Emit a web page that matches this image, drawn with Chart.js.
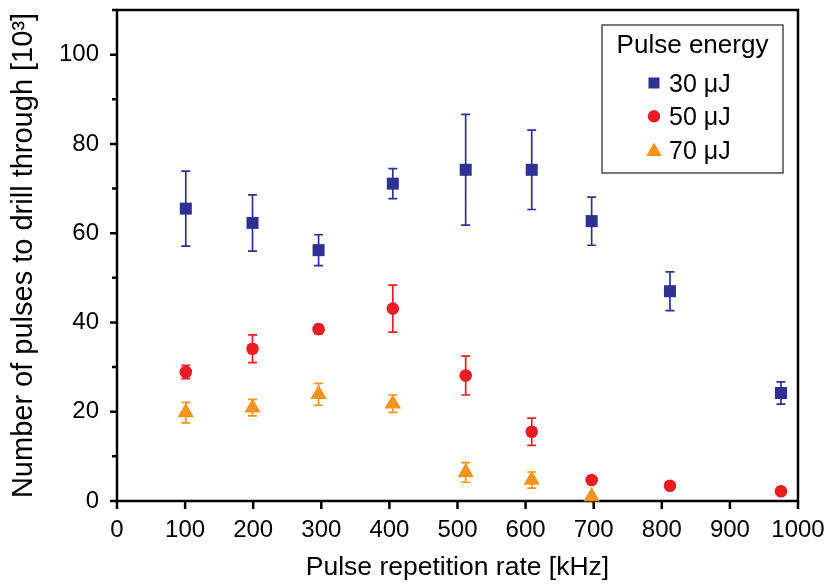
<!DOCTYPE html>
<html>
<head>
<meta charset="utf-8">
<title>Pulses to drill through vs repetition rate</title>
<script src="https://cdn.jsdelivr.net/npm/chart.js@4.4.1/dist/chart.umd.min.js"></script>
<style>
  html, body { margin: 0; padding: 0; background: #ffffff; }
  #wrap { width: 828px; height: 585px; }
</style>
</head>
<body>
<div id="wrap"><canvas id="chart" width="828" height="585"></canvas></div>
<script>
// Pulse repetition rate of each measurement [kHz]
const rates = [101, 199, 296, 405, 512, 609, 697, 812, 975];

// Number of pulses to drill through [10^3] and their symmetric error bars
const pulses30 = [65.5, 62.3, 56.2, 71.1, 74.2, 74.2, 62.7, 47.0, 24.2];
const error30  = [8.4, 6.3, 3.45, 3.35, 12.4, 8.9, 5.4, 4.35, 2.5];

const pulses50 = [28.9, 34.1, 38.5, 43.1, 28.1, 15.5, 4.7, 3.4, 2.2];
const error50  = [1.5, 3.1, 1.0, 5.25, 4.35, 3.05, 0, 0, 0];

const pulses70 = [19.8, 20.9, 23.9, 21.8, 6.4, 4.7, 1.0];
const error70  = [2.3, 1.85, 2.45, 1.95, 2.2, 1.8, 0];

// Series names shown in the legend
const seriesLabels = ['30 μJ', '50 μJ', '70 μJ'];
const legendTitle = 'Pulse energy';

// Axis ticks
const xTickValues = [0, 100, 200, 300, 400, 500, 600, 700, 800, 900, 1000];
const yTickValues = [0, 20, 40, 60, 80, 100];
const yMinorTickValues = [10, 30, 50, 70, 90, 110];

const FONT = '"Liberation Sans", Arial, Helvetica, sans-serif';
const COLORS = ['#2E3192', '#ED1C24', '#F7941D'];

function toPoints(ys) {
  return ys.map((y, i) => ({ x: rates[i], y: y }));
}

// Draw a filled marker of the given style centred at (x, y)
function drawMarker(ctx, style, r, x, y, color) {
  ctx.save();
  ctx.fillStyle = color;
  ctx.beginPath();
  if (style === 'rect') {
    const s = Math.SQRT1_2 * r;
    ctx.rect(x - s, y - s, 2 * s, 2 * s);
  } else if (style === 'triangle') {
    ctx.moveTo(x, y - r);
    ctx.lineTo(x + Math.sin(Math.PI * 2 / 3) * r, y + 0.5 * r);
    ctx.lineTo(x - Math.sin(Math.PI * 2 / 3) * r, y + 0.5 * r);
    ctx.closePath();
  } else {
    ctx.arc(x, y, r, 0, Math.PI * 2);
  }
  ctx.fill();
  ctx.restore();
}

// Frame, outward tick marks and vertical error bars
const framePlugin = {
  id: 'frameAndErrors',
  beforeDatasetsDraw(chart) {
    const { ctx, chartArea: a, scales } = chart;
    const xs = scales.x, ys = scales.y;
    ctx.save();
    ctx.strokeStyle = '#000';
    ctx.lineWidth = 2.5;
    ctx.strokeRect(a.left, a.top, a.right - a.left, a.bottom - a.top);
    ctx.beginPath();
    xs.ticks.forEach(t => {
      const px = xs.getPixelForValue(t.value);
      ctx.moveTo(px, a.bottom);
      ctx.lineTo(px, a.bottom + 8);
    });
    ys.ticks.forEach(t => {
      const py = ys.getPixelForValue(t.value);
      ctx.moveTo(a.left, py);
      ctx.lineTo(a.left - 7, py);
    });
    yMinorTickValues.forEach(v => {
      const py = ys.getPixelForValue(v);
      ctx.moveTo(a.left, py);
      ctx.lineTo(a.left - 5, py);
    });
    ctx.stroke();

    // error bars behind the markers
    ctx.lineWidth = 1.7;
    chart.data.datasets.forEach(ds => {
      ctx.strokeStyle = ds.backgroundColor;
      ctx.beginPath();
      ds.data.forEach((p, i) => {
        const e = ds.errors[i];
        if (!e) return;
        const px = xs.getPixelForValue(p.x);
        const top = ys.getPixelForValue(p.y + e);
        const bot = ys.getPixelForValue(p.y - e);
        ctx.moveTo(px, top); ctx.lineTo(px, bot);
        ctx.moveTo(px - 4.5, top); ctx.lineTo(px + 4.5, top);
        ctx.moveTo(px - 4.5, bot); ctx.lineTo(px + 4.5, bot);
      });
      ctx.stroke();
    });
    ctx.restore();
  },
  afterDraw(chart) {
    // boxed legend in the upper right of the plot
    const { ctx } = chart;
    const box = { left: 602, top: 25, right: 783, bottom: 173 };
    ctx.save();
    ctx.fillStyle = '#fff';
    ctx.fillRect(box.left, box.top, box.right - box.left, box.bottom - box.top);
    ctx.strokeStyle = '#231F20';
    ctx.lineWidth = 1.2;
    ctx.strokeRect(box.left, box.top, box.right - box.left, box.bottom - box.top);
    ctx.fillStyle = '#000';
    ctx.textBaseline = 'alphabetic';
    ctx.textAlign = 'center';
    ctx.font = '26px ' + FONT;
    ctx.fillText(legendTitle, (box.left + box.right) / 2, 53);
    ctx.textAlign = 'left';
    ctx.font = '25px ' + FONT;
    chart.data.datasets.forEach((ds, i) => {
      const base = 92 + i * 33.3;
      const cy = base - 9;
      drawMarker(ctx, ds.pointStyle, ds.legendRadius, 654, cy + (ds.pointStyle === 'triangle' ? 2 : 0), ds.backgroundColor);
      ctx.fillStyle = '#000';
      ctx.fillText(ds.label, 669, base);
    });
    ctx.restore();
  }
};

const chart = new Chart(document.getElementById('chart'), {
  type: 'scatter',
  data: {
    datasets: [
      { label: seriesLabels[0], data: toPoints(pulses30), errors: error30,
        pointStyle: 'rect', pointRadius: 8.5, legendRadius: 7.8,
        backgroundColor: COLORS[0], borderColor: COLORS[0], borderWidth: 0, clip: false },
      { label: seriesLabels[1], data: toPoints(pulses50), errors: error50,
        pointStyle: 'circle', pointRadius: 6.3, legendRadius: 6.2,
        backgroundColor: COLORS[1], borderColor: COLORS[1], borderWidth: 0, clip: false },
      { label: seriesLabels[2], data: toPoints(pulses70), errors: error70,
        pointStyle: 'triangle', pointRadius: 9.5, legendRadius: 9,
        backgroundColor: COLORS[2], borderColor: COLORS[2], borderWidth: 0, clip: false }
    ]
  },
  options: {
    responsive: false,
    animation: false,
    devicePixelRatio: 1,
    layout: { padding: { top: 10, right: 30, bottom: 0, left: 0 } },
    plugins: {
      legend: { display: false },
      tooltip: { enabled: false }
    },
    elements: { point: { hoverRadius: 0 } },
    scales: {
      x: {
        type: 'linear',
        min: 0, max: 1000,
        afterBuildTicks(scale) { scale.ticks = xTickValues.map(v => ({ value: v })); },
        afterFit(scale) { scale.height = 84; scale.paddingLeft = 0; scale.paddingRight = 0; },
        grid: { display: false, drawTicks: false },
        border: { display: false },
        ticks: { padding: 15, color: '#000', font: { family: FONT, size: 24 }, maxRotation: 0, autoSkip: false,
                 callback: v => String(v) },
        title: { display: true, text: 'Pulse repetition rate [kHz]', color: '#000',
                 font: { family: FONT, size: 26.5 }, padding: { top: 0, bottom: 1 } }
      },
      y: {
        type: 'linear',
        min: 0, max: 110,
        afterBuildTicks(scale) { scale.ticks = yTickValues.map(v => ({ value: v })); },
        afterFit(scale) { scale.width = 117; scale.paddingTop = 0; scale.paddingBottom = 0; },
        grid: { display: false, drawTicks: false },
        border: { display: false },
        ticks: { padding: 18, color: '#000', font: { family: FONT, size: 24 }, callback: v => String(v) },
        title: { display: true, text: 'Number of pulses to drill through [10³]', color: '#000',
                 font: { family: FONT, size: 29 }, padding: { top: 6.5, bottom: 0 } }
      }
    }
  },
  plugins: [framePlugin]
});
</script>
</body>
</html>
